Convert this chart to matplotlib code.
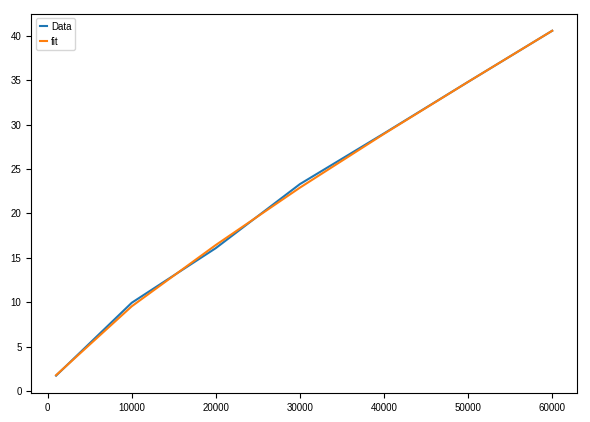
import matplotlib
matplotlib.use("Agg")
import matplotlib.pyplot as plt

plt.rcParams['font.family'] = ['Liberation Sans', 'DejaVu Sans']
plt.rcParams['font.size'] = 7

x = [1000, 10000, 20000, 30000, 40000, 50000, 60000]
data = [1.75, 9.95, 16.1, 23.3, 29.0, 34.8, 40.55]
fit = [1.8, 9.55, 16.45, 22.9, 28.95, 34.8, 40.55]

fig = plt.figure(figsize=(5.9, 4.22), dpi=100)
ax = fig.add_axes([0.053, 0.069, 0.925, 0.899])
ax.plot(x, data, label="Data")
ax.plot(x, fit, label="fit")
ax.legend(loc="upper left", handlelength=0.8, handletextpad=0.4, borderpad=0.35)

fig.savefig("out.png", dpi=100)
